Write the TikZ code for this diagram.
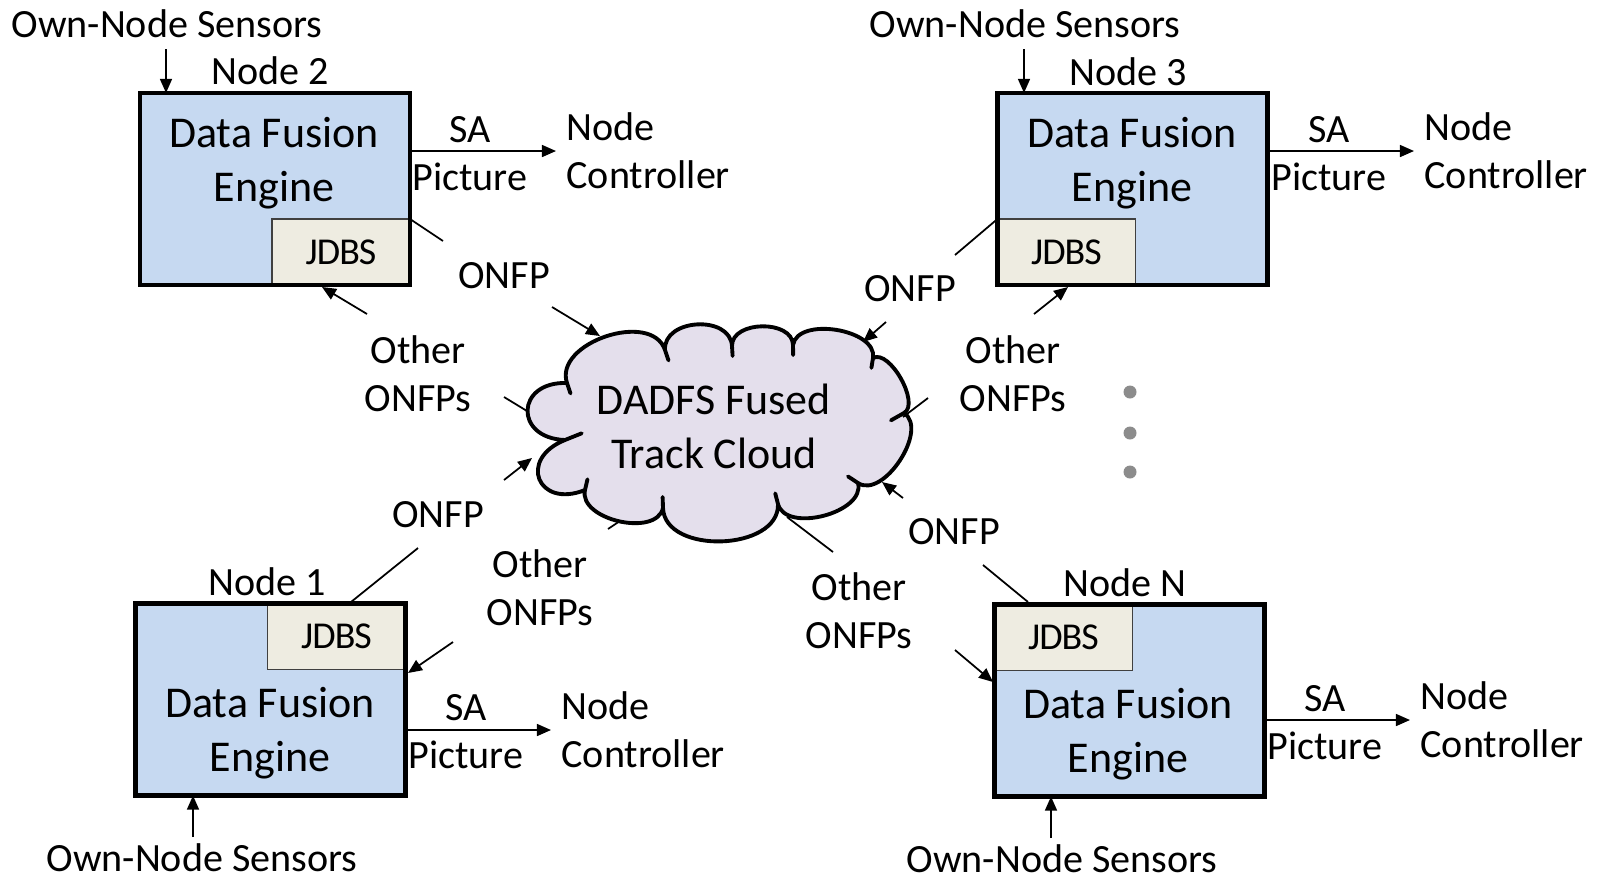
\documentclass[tikz,border=0pt]{standalone}
\usepackage{fontspec}
\setmainfont{Carlito}
\newfontfamily\jdbsfont[LetterSpace=-2.5]{Carlito}
\usepackage{tikz}
\usetikzlibrary{arrows.meta,calc}
\definecolor{dfeblue}{HTML}{C6D9F1}
\definecolor{jdbstan}{HTML}{EEECE1}
\definecolor{cloudlav}{HTML}{E4DFEC}
\definecolor{dotgray}{HTML}{8C8C8C}

\begin{document}
\begin{tikzpicture}[x=0.01cm,y=-0.01cm,
  dfe/.style={fill=dfeblue,minimum width=2.7cm,minimum height=1.92cm,outer sep=0pt,inner sep=0pt},
  rim/.style={line width=1.2pt},
  jdbs/.style={draw=black!75,fill=jdbstan,line width=0.5pt,minimum width=1.38cm,minimum height=0.66cm,outer sep=0pt,font=\jdbsfont\fontsize{10.8}{12}\selectfont},
  big/.style={align=center,font=\fontsize{12.5}{15.4}\selectfont},
  lbl/.style={align=center,font=\fontsize{11.4}{13.7}\selectfont},
  ctl/.style={lbl,align=left,anchor=west,inner sep=2.8pt},
  flow/.style={line width=0.5pt,-{Triangle[length=4pt,width=3.4pt]}},
  lead/.style={line width=0.5pt},
  puff/.style={line width=1.1pt,line join=round,line cap=round}]
\useasboundingbox (0,0) rectangle (1600,878);

% fused track cloud
\coordinate (j0) at (567,383);
\coordinate (j1) at (665,350);
\coordinate (j2) at (732,346);
\coordinate (j3) at (793,345);
\coordinate (j4) at (873,358);
\coordinate (j5) at (904,413);
\coordinate (j6) at (858,483);
\coordinate (j7) at (778,504);
\coordinate (j8) at (663,508);
\coordinate (j9) at (585,490);
\coordinate (j10) at (565,440);
\filldraw[puff,fill=cloudlav] (j0)
  .. controls ($(j0)!0.41!90:(j1)$) and ($(j1)!0.41!-90:(j0)$) .. (j1)
  .. controls ($(j1)!0.47!90:(j2)$) and ($(j2)!0.47!-90:(j1)$) .. (j2)
  .. controls ($(j2)!0.42!90:(j3)$) and ($(j3)!0.42!-90:(j2)$) .. (j3)
  .. controls ($(j3)!0.36!90:(j4)$) and ($(j4)!0.36!-90:(j3)$) .. (j4)
  .. controls ($(j4)!0.30!90:(j5)$) and ($(j5)!0.30!-90:(j4)$) .. (j5)
  .. controls ($(j5)!0.36!90:(j6)$) and ($(j6)!0.36!-90:(j5)$) .. (j6)
  .. controls ($(j6)!0.37!90:(j7)$) and ($(j7)!0.37!-90:(j6)$) .. (j7)
  .. controls ($(j7)!0.41!90:(j8)$) and ($(j8)!0.41!-90:(j7)$) .. (j8)
  .. controls ($(j8)!0.38!90:(j9)$) and ($(j9)!0.38!-90:(j8)$) .. (j9)
  .. controls ($(j9)!0.95!90:(j10)$) and ($(j10)!0.95!-90:(j9)$) .. (j10)
  .. controls ($(j10)!0.90!90:(j0)$) and ($(j0)!0.90!-90:(j10)$) .. (j0)
  -- cycle;
\draw[puff] (j0) -- ($(j0)!0.11cm!-90:(j1)$);
\draw[puff] (j1) -- ($(j1)!0.11cm!90:(j0)$);
\draw[puff] (j2) -- ($(j2)!0.10cm!90:(j1)$);
\draw[puff] (j3) -- ($(j3)!0.10cm!90:(j2)$);
\draw[puff] (j4) -- ($(j4)!0.10cm!90:(j3)$);
\draw[puff] (j5) -- ($(j5)!0.15cm!90:(j4)$);
\draw[puff] (j6) -- ($(j6)!0.12cm!90:(j5)$);
\draw[puff] (j7) -- ($(j7)!0.11cm!90:(j6)$);
\draw[puff] (j8) -- ($(j8)!0.11cm!90:(j7)$);
\draw[puff] (j9) -- ($(j9)!0.11cm!90:(j8)$);
\draw[puff] (j10) -- ($(j10)!0.18cm!90:(j9)$);
\node[big] (fdctxt) at (714,426) {DADFS Fused\\Track Cloud};

% node 2
\node[dfe] (dfe2) at (275,189) {};
\node[jdbs,anchor=south east] (jdbs2) at (dfe2.south east) {JDBS};
\draw[rim] (dfe2.south west) rectangle (dfe2.north east);
\node[big] (txt2) at (274,163) {Data Fusion\\Engine};
\node[lbl] (name2) at (270,71) {Node 2};
\node[lbl] (sens2) at (167,24) {Own-Node Sensors};
\coordinate (a2) at (166,49);
\draw[flow] (a2) -- (a2 |- dfe2.north);
\node[lbl] (sa2) at (470,154) {SA\\Picture};
\node[ctl] (nc2) at (556,151) {Node\\Controller};
\draw[flow] (nc2.west -| dfe2.east) -- (nc2.west);
\node[lbl] (onfp2) at (504,276) {ONFP};
\coordinate (o2a) at (443,241);
\coordinate (o2b) at (552,307);
\coordinate (c2in) at (600,336);
\draw[lead] (jdbs2.north east) -- (o2a);
\draw[flow] (o2b) -- (c2in);
\node[lbl] (oth2) at (418,374) {Other\\ONFPs};
\coordinate (c2out) at (527,411);
\coordinate (x2a) at (504,397);
\coordinate (x2b) at (367,314);
\coordinate (t2) at (322,287);
\draw[lead] (c2out) -- (x2a);
\draw[flow] (x2b) -- (t2);

% node 3
\node[dfe] (dfe3) at (1132.5,189) {};
\node[jdbs,anchor=south west] (jdbs3) at (dfe3.south west) {JDBS};
\draw[rim] (dfe3.south west) rectangle (dfe3.north east);
\node[big] (txt3) at (1132,163) {Data Fusion\\Engine};
\node[lbl] (name3) at (1128,72) {Node 3};
\node[lbl] (sens3) at (1025,24) {Own-Node Sensors};
\coordinate (a3) at (1024,49);
\draw[flow] (a3) -- (a3 |- dfe3.north);
\node[lbl] (sa3) at (1329,154) {SA\\Picture};
\node[ctl] (nc3) at (1414,151) {Node\\Controller};
\draw[flow] (nc3.west -| dfe3.east) -- (nc3.west);
\node[lbl] (onfp3) at (910,289) {ONFP};
\coordinate (o3a) at (955,255);
\coordinate (o3b) at (886,322);
\coordinate (c3in) at (863,342);
\draw[lead] (jdbs3.north west) -- (o3a);
\draw[flow] (o3b) -- (c3in);
\node[lbl] (oth3) at (1013,374) {Other\\ONFPs};
\coordinate (c3out) at (903,417);
\coordinate (x3a) at (928,398);
\coordinate (x3b) at (1034,314);
\coordinate (t3) at (1068,287);
\draw[lead] (c3out) -- (x3a);
\draw[flow] (x3b) -- (t3);

% more nodes
\foreach \y in {392,433,472}
  \fill[dotgray] (1130,\y) circle (6.5);

% node 1
\node[dfe] (dfe1) at (270.5,699.5) {};
\node[jdbs,anchor=north east] (jdbs1) at (dfe1.north east) {JDBS};
\draw[rim] (dfe1.south west) rectangle (dfe1.north east);
\node[big] (txt1) at (270,733) {Data Fusion\\Engine};
\node[lbl] (name1) at (267,582) {Node 1};
\node[lbl] (sens1) at (202,858) {Own-Node Sensors};
\coordinate (a1) at (193,837);
\draw[flow] (a1) -- (a1 |- dfe1.south);
\node[lbl] (sa1) at (466,732) {SA\\Picture};
\node[ctl] (nc1) at (551,730) {Node\\Controller};
\draw[flow] (nc1.west -| dfe1.east) -- (nc1.west);
\node[lbl] (onfp1) at (438,515) {ONFP};
\coordinate (l1) at (351,602);
\coordinate (o1a) at (418,548);
\coordinate (o1b) at (504,480);
\coordinate (c1in) at (532,458);
\draw[lead] (l1) -- (o1a);
\draw[flow] (o1b) -- (c1in);
\node[lbl] (oth1) at (540,588) {Other\\ONFPs};
\coordinate (c1out) at (620,521);
\coordinate (x1a) at (608,529);
\coordinate (x1b) at (453,642);
\coordinate (t1) at (408,673);
\draw[lead] (c1out) -- (x1a);
\draw[flow] (x1b) -- (t1);

% node N
\node[dfe] (dfeN) at (1129.5,700.5) {};
\node[jdbs,anchor=north west] (jdbsN) at (dfeN.north west) {JDBS};
\draw[rim] (dfeN.south west) rectangle (dfeN.north east);
\node[big] (txtN) at (1128,734) {Data Fusion\\Engine};
\node[lbl] (nameN) at (1125,583) {Node N};
\node[lbl] (sensN) at (1062,859) {Own-Node Sensors};
\coordinate (aN) at (1051,838);
\draw[flow] (aN) -- (aN |- dfeN.south);
\node[lbl] (saN) at (1325,723) {SA\\Picture};
\node[ctl] (ncN) at (1410,720) {Node\\Controller};
\draw[flow] (ncN.west -| dfeN.east) -- (ncN.west);
\node[lbl] (onfpN) at (954,532) {ONFP};
\coordinate (lN) at (1028,602);
\coordinate (oNa) at (983,565);
\coordinate (oNb) at (903,498);
\coordinate (cNin) at (882,482);
\draw[lead] (lN) -- (oNa);
\draw[flow] (oNb) -- (cNin);
\node[lbl] (othN) at (859,611) {Other\\ONFPs};
\coordinate (cNout) at (787,517);
\coordinate (xNa) at (833,552);
\coordinate (xNb) at (955,650);
\coordinate (tN) at (993,682);
\draw[lead] (cNout) -- (xNa);
\draw[flow] (xNb) -- (tN);
\end{tikzpicture}
\end{document}
